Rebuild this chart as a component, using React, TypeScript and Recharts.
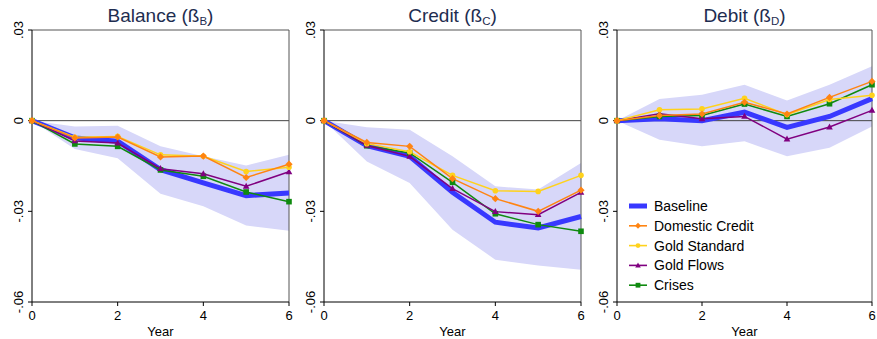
import React from 'react';
import { ComposedChart, Line, Area, XAxis, YAxis, ReferenceLine } from 'recharts';

const years = [0, 1, 2, 3, 4, 5, 6];
const xTicks = [0, 2, 4, 6];
const yTicks = [-0.06, -0.03, 0, 0.03];
const yTickLabels: Record<string, string> = { '-0.06': '-.06', '-0.03': '-.03', '0': '0', '0.03': '.03' };
const seriesNames = ['Baseline', 'Domestic Credit', 'Gold Standard', 'Gold Flows', 'Crises'];

// Balance
const balBaseline = [0, -0.0057, -0.0068, -0.0162, -0.0206, -0.0248, -0.0239];
const balDomestic = [0, -0.0057, -0.0054, -0.012, -0.0117, -0.0188, -0.0144];
const balGoldStd = [0, -0.0055, -0.0052, -0.0113, -0.0118, -0.0168, -0.0154];
const balGoldFlows = [0, -0.0067, -0.0074, -0.0159, -0.0176, -0.0217, -0.0169];
const balCrises = [0, -0.0077, -0.0085, -0.0163, -0.0184, -0.0236, -0.0268];
const balLower = [0, -0.0094, -0.0124, -0.0242, -0.0283, -0.0347, -0.0364];
const balUpper = [0, -0.0019, -0.0017, -0.0085, -0.0118, -0.0148, -0.0113];

// Credit
const creBaseline = [0, -0.0083, -0.0118, -0.0237, -0.0336, -0.0355, -0.0317];
const creDomestic = [0, -0.0072, -0.0085, -0.0192, -0.0258, -0.03, -0.023];
const creGoldStd = [0, -0.0076, -0.0103, -0.0181, -0.0232, -0.0234, -0.0181];
const creGoldFlows = [0, -0.0082, -0.0118, -0.0225, -0.0301, -0.0311, -0.0237];
const creCrises = [0, -0.0083, -0.0107, -0.0204, -0.0308, -0.0344, -0.0366];
const creLower = [0, -0.0135, -0.0206, -0.0361, -0.046, -0.0479, -0.0493];
const creUpper = [0, -0.0022, -0.003, -0.0118, -0.0217, -0.0228, -0.014];

// Debit
const debBaseline = [0, 0.0006, 0, 0.0028, -0.0022, 0.0014, 0.0073];
const debDomestic = [0, 0.0017, 0.0022, 0.0061, 0.0022, 0.0077, 0.013];
const debGoldStd = [0, 0.0036, 0.0039, 0.0074, 0.002, 0.007, 0.0084];
const debGoldFlows = [0, 0.0023, 0.0006, 0.0014, -0.0061, -0.0021, 0.0034];
const debCrises = [0, 0.0014, 0.0017, 0.0055, 0.0014, 0.0056, 0.0119];
const debLower = [0, -0.0063, -0.0085, -0.0068, -0.0118, -0.009, -0.0019];
const debUpper = [0, 0.0072, 0.0086, 0.0119, 0.0067, 0.0119, 0.018];

const C_BASE = '#3838ff';
const C_BAND = '#d7d7f9';
const C_DOM = '#ff8412';
const C_GOLD = '#ffd21c';
const C_FLOW = '#800080';
const C_CRI = '#0f8a0f';
const FONT = 'Liberation Sans, Arial, sans-serif';

function build(b: number[], d: number[], g: number[], f: number[], c: number[], lo: number[], hi: number[]) {
  return years.map((y, i) => ({ year: y, base: b[i], dom: d[i], gold: g[i], flow: f[i], cri: c[i], band: [lo[i], hi[i]] }));
}

const diamond = (color: string) => (p: any) => {
  const { cx, cy, index } = p;
  if (cx == null || cy == null) return <g key={`dm-${index}`} />;
  return <path key={`dm-${index}`} d={`M${cx},${cy - 3.6}L${cx + 3.6},${cy}L${cx},${cy + 3.6}L${cx - 3.6},${cy}Z`} fill={color} />;
};
const circle = (color: string) => (p: any) => {
  const { cx, cy, index } = p;
  if (cx == null || cy == null) return <g key={`ci-${index}`} />;
  return <circle key={`ci-${index}`} cx={cx} cy={cy} r={2.8} fill={color} />;
};
const triangle = (color: string) => (p: any) => {
  const { cx, cy, index } = p;
  if (cx == null || cy == null) return <g key={`tr-${index}`} />;
  return <path key={`tr-${index}`} d={`M${cx},${cy - 3.6}L${cx + 3.3},${cy + 2.4}L${cx - 3.3},${cy + 2.4}Z`} fill={color} />;
};
const square = (color: string) => (p: any) => {
  const { cx, cy, index } = p;
  if (cx == null || cy == null) return <g key={`sq-${index}`} />;
  return <rect key={`sq-${index}`} x={cx - 2.8} y={cy - 2.8} width={5.6} height={5.6} fill={color} />;
};

const YTick = (props: any) => {
  const { x, y, payload } = props;
  const label = yTickLabels[String(payload.value)] ?? String(payload.value);
  return (
    <text transform={`translate(${x - 5},${y}) rotate(-90)`} textAnchor="middle" fontSize={13} fontFamily={FONT} fill="#000">
      {label}
    </text>
  );
};

const legendItems = [
  { name: seriesNames[0], color: C_BASE, kind: 'thick' },
  { name: seriesNames[1], color: C_DOM, kind: 'diamond' },
  { name: seriesNames[2], color: C_GOLD, kind: 'circle' },
  { name: seriesNames[3], color: C_FLOW, kind: 'triangle' },
  { name: seriesNames[4], color: C_CRI, kind: 'square' },
];

const LegendBox = ({ left, top }: { left: number; top: number }) => (
  <svg width={160} height={100} style={{ position: 'absolute', left, top }}>
    {legendItems.map((it, i) => {
      const y = 10 + i * 19.8;
      let marker: React.ReactNode = null;
      const cx = 18, cy = y;
      if (it.kind === 'diamond') marker = <path d={`M${cx},${cy - 3}L${cx + 3},${cy}L${cx},${cy + 3}L${cx - 3},${cy}Z`} fill={it.color} />;
      if (it.kind === 'circle') marker = <circle cx={cx} cy={cy} r={2.4} fill={it.color} />;
      if (it.kind === 'triangle') marker = <path d={`M${cx},${cy - 3}L${cx + 2.8},${cy + 2}L${cx - 2.8},${cy + 2}Z`} fill={it.color} />;
      if (it.kind === 'square') marker = <rect x={cx - 2.4} y={cy - 2.4} width={4.8} height={4.8} fill={it.color} />;
      return (
        <g key={it.name}>
          <line x1={9} x2={27} y1={y} y2={y} stroke={it.color} strokeWidth={it.kind === 'thick' ? 5 : 1.6} />
          {marker}
          <text x={34} y={y + 5} fontSize={14} fontFamily={FONT} fill="#000">{it.name}</text>
        </g>
      );
    })}
  </svg>
);

type PanelProps = {
  left: number; width: number; yAxisWidth: number; marginRight: number;
  data: any[]; title: string; sub: string;
};

const Panel = ({ left, width, yAxisWidth, marginRight, data, title, sub }: PanelProps) => {
  const plotLeft = left + yAxisWidth;
  const plotW = width - yAxisWidth - marginRight;
  return (
    <>
      <div style={{ position: 'absolute', left: plotLeft, top: 5, width: plotW, textAlign: 'center', fontFamily: FONT, fontSize: 19, lineHeight: '22px', color: '#1e2d50', whiteSpace: 'nowrap' }}>
        {title} (ß<span style={{ fontSize: 11.5, position: 'relative', top: 3 }}>{sub}</span>)
      </div>
      <div style={{ position: 'absolute', left, top: 0 }}>
        <ComposedChart width={width} height={339} data={data} margin={{ top: 30, right: marginRight, bottom: 0, left: 0 }}>
          <XAxis dataKey="year" type="number" domain={[0, 6]} ticks={xTicks} tickSize={4} tickMargin={5}
            axisLine={{ stroke: '#000' }} tickLine={{ stroke: '#000' }}
            tick={{ fontSize: 13, fontFamily: FONT, fill: '#000' }} height={37}
            label={{ value: 'Year', position: 'insideBottom', offset: 3, fontSize: 13, fontFamily: FONT, fill: '#000' }} />
          <YAxis domain={[-0.06, 0.03]} ticks={yTicks} tickSize={4} tickMargin={0} width={yAxisWidth}
            axisLine={{ stroke: '#000' }} tickLine={{ stroke: '#000' }} tick={<YTick />} interval={0} />
          <Area dataKey="band" stroke="none" fill={C_BAND} fillOpacity={1} isAnimationActive={false} type="linear" />
          <ReferenceLine y={0} stroke="#444" strokeWidth={1} />
          <ReferenceLine y={0.03} stroke="#555" strokeWidth={1} />
          <ReferenceLine x={6} stroke="#555" strokeWidth={1} />
          <Line dataKey="base" name={seriesNames[0]} stroke={C_BASE} strokeWidth={5} dot={false} isAnimationActive={false} type="linear" />
          <Line dataKey="cri" name={seriesNames[4]} stroke={C_CRI} strokeWidth={1.5} dot={square(C_CRI)} isAnimationActive={false} type="linear" />
          <Line dataKey="flow" name={seriesNames[3]} stroke={C_FLOW} strokeWidth={1.5} dot={triangle(C_FLOW)} isAnimationActive={false} type="linear" />
          <Line dataKey="gold" name={seriesNames[2]} stroke={C_GOLD} strokeWidth={1.5} dot={circle(C_GOLD)} isAnimationActive={false} type="linear" />
          <Line dataKey="dom" name={seriesNames[1]} stroke={C_DOM} strokeWidth={1.5} dot={diamond(C_DOM)} isAnimationActive={false} type="linear" />
        </ComposedChart>
      </div>
    </>
  );
};

export default function App() {
  const balData = build(balBaseline, balDomestic, balGoldStd, balGoldFlows, balCrises, balLower, balUpper);
  const creData = build(creBaseline, creDomestic, creGoldStd, creGoldFlows, creCrises, creLower, creUpper);
  const debData = build(debBaseline, debDomestic, debGoldStd, debGoldFlows, debCrises, debLower, debUpper);
  return (
    <div style={{ position: 'absolute', left: 0, top: 0, width: 877, height: 339, background: '#fff' }}>
      <Panel left={0} width={295} yAxisWidth={32} marginRight={6} data={balData} title="Balance" sub="B" />
      <Panel left={290} width={295} yAxisWidth={34} marginRight={4} data={creData} title="Credit" sub="C" />
      <Panel left={584} width={293} yAxisWidth={33} marginRight={5} data={debData} title="Debit" sub="D" />
      <LegendBox left={620} top={196} />
    </div>
  );
}
